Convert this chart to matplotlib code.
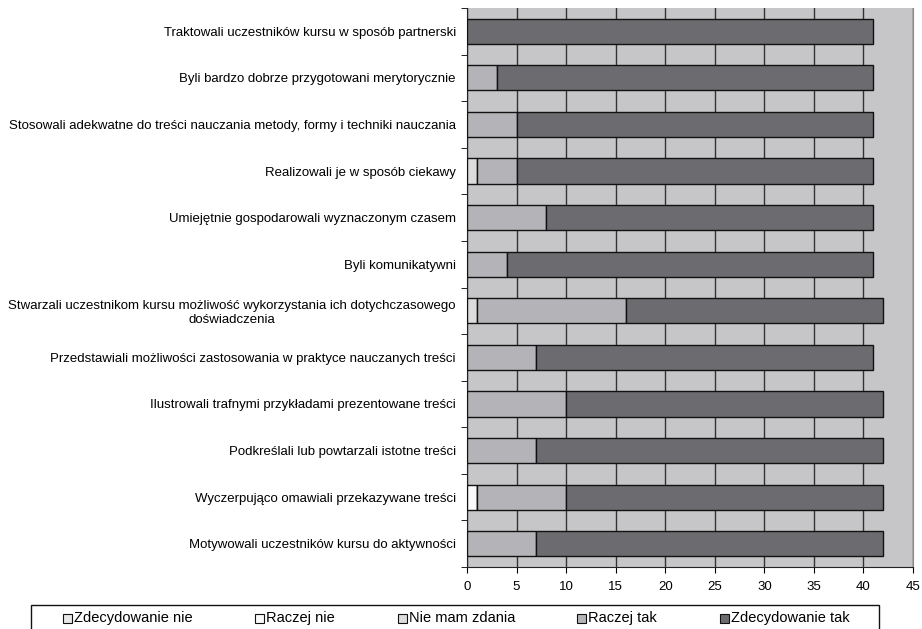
import matplotlib.pyplot as plt
from matplotlib.patches import Rectangle
import numpy as np

plt.rcParams['font.family'] = ['Liberation Sans', 'DejaVu Sans']

# Dane (od góry do dołu)
kategorie = [
    'Traktowali uczestników kursu w sposób partnerski',
    'Byli bardzo dobrze przygotowani merytorycznie',
    'Stosowali adekwatne do treści nauczania metody, formy i techniki nauczania',
    'Realizowali je w sposób ciekawy',
    'Umiejętnie gospodarowali wyznaczonym czasem',
    'Byli komunikatywni',
    'Stwarzali uczestnikom kursu możliwość wykorzystania ich dotychczasowego\ndoświadczenia',
    'Przedstawiali możliwości zastosowania w praktyce nauczanych treści',
    'Ilustrowali trafnymi przykładami prezentowane treści',
    'Podkreślali lub powtarzali istotne treści',
    'Wyczerpująco omawiali przekazywane treści',
    'Motywowali uczestników kursu do aktywności',
]
serie = ['Zdecydowanie nie', 'Raczej nie', 'Nie mam zdania', 'Raczej tak', 'Zdecydowanie tak']
zdecydowanie_nie = [0, 0, 0, 0, 0, 0, 0, 0, 0, 0, 0, 0]
raczej_nie = [0, 0, 0, 0, 0, 0, 0, 0, 0, 0, 1, 0]
nie_mam_zdania = [0, 0, 0, 1, 0, 0, 1, 0, 0, 0, 0, 0]
raczej_tak = [0, 3, 5, 4, 8, 4, 15, 7, 10, 7, 9, 7]
zdecydowanie_tak = [41, 38, 36, 36, 33, 37, 26, 34, 32, 35, 32, 35]
kolory = ['#e8e8e8', '#fafafa', '#dcdcdc', '#b4b4b8', '#6c6c70']

W, H = 922, 629
fig = plt.figure(figsize=(W / 100, H / 100), dpi=100)
ax = fig.add_axes([467 / W, 1 - 567 / H, 446 / W, 559 / H])
ax.set_facecolor('#c6c6c8')

y = np.arange(len(kategorie))
lewo = np.zeros(len(kategorie))
for nazwa, wart, kol in zip(serie, [zdecydowanie_nie, raczej_nie, nie_mam_zdania, raczej_tak, zdecydowanie_tak], kolory):
    wart = np.array(wart, dtype=float)
    ax.barh(y, wart, left=lewo, height=0.54, color=kol, edgecolor='#111111',
            linewidth=1, label=nazwa, zorder=3)
    lewo += wart

ax.set_xlim(0, 45)
ax.set_ylim(len(kategorie) - 0.5, -0.5)
ax.set_xticks(np.arange(0, 46, 5))
ax.set_yticks(y)
ax.set_yticklabels(kategorie, fontsize=9.5, multialignment='center')
ax.set_yticks(np.arange(-0.5, len(kategorie), 1), minor=True)
ax.tick_params(axis='y', which='major', length=0, pad=8)
ax.tick_params(axis='y', which='minor', length=4, direction='out')
ax.tick_params(axis='x', labelsize=9.5, length=4, direction='out', pad=6)
ax.grid(axis='x', color='#333333', linewidth=1, zorder=1)
ax.set_axisbelow(True)
ax.spines['top'].set_visible(False)
ax.spines['right'].set_color('#888888')
ax.spines['left'].set_color('#222222')
ax.spines['bottom'].set_color('#222222')

# Legenda pod wykresem - ręcznie, bo pozycje wpisów są stałe (ramka ucięta dołem)
fig.patches.append(Rectangle((31 / W, -0.05), 848 / W, 0.05 + 1 - 605 / H,
                             transform=fig.transFigure, fill=False,
                             edgecolor='#111111', linewidth=1))
pozycje_leg = [63, 255, 398, 577, 720]
yc = 1 - 618 / H
for nazwa, kol, px in zip(serie, kolory, pozycje_leg):
    fig.patches.append(Rectangle((px / W, yc - 4.5 / H), 9 / W, 9 / H,
                                 transform=fig.transFigure, facecolor=kol,
                                 edgecolor='#111111', linewidth=0.8))
    fig.text((px + 11) / W, yc, nazwa, fontsize=10.5, va='center', ha='left')

plt.savefig('out.png', dpi=100)
plt.close(fig)
